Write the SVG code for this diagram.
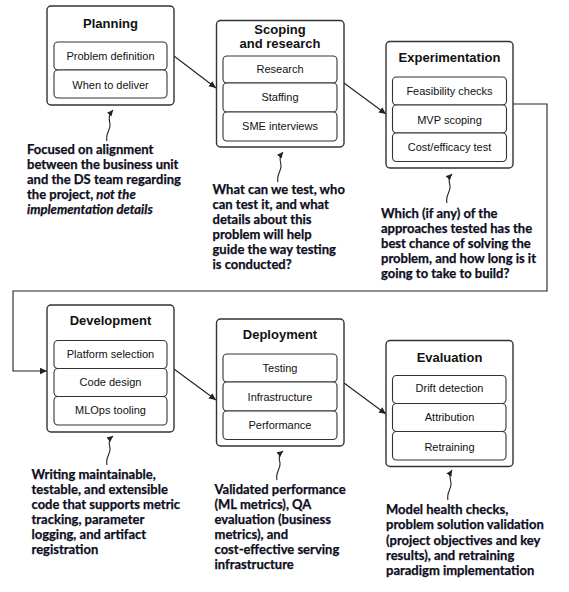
<svg xmlns="http://www.w3.org/2000/svg" width="569" height="592" viewBox="0 0 569 592">
<style>
.outer{fill:#fff;stroke:#333;stroke-width:1.4}
.inner{fill:#fff;stroke:#333;stroke-width:1.1}
.title{font-family:"Liberation Sans",Arial,sans-serif;font-weight:bold;font-size:13px;fill:#111;text-anchor:middle}
.item{font-family:"Liberation Sans",Arial,sans-serif;font-size:11px;fill:#111;text-anchor:middle}
.note{font-family:Lato,"Open Sans",sans-serif;font-weight:bold;font-size:13px;fill:#0e0e1e;stroke:#0e0e1e;stroke-width:0.25}
.conn{fill:none;stroke:#222;stroke-width:1.1}
.sq{fill:none;stroke:#222;stroke-width:1.1}
</style>
<defs>
<marker id="ah" markerWidth="8" markerHeight="8" refX="7" refY="4" orient="auto" markerUnits="userSpaceOnUse">
<path d="M0,0.8 L7,4 L0,7.2 Z" fill="#222"/>
</marker>
<marker id="ahs" markerWidth="7" markerHeight="7" refX="6" refY="3.5" orient="auto" markerUnits="userSpaceOnUse">
<path d="M0,0.5 L6,3.5 L0,6.5 Z" fill="#222"/>
</marker>
</defs>

<g id="connectors">
<path class="conn" d="M174,56 L216,88" marker-end="url(#ah)"/>
<path class="conn" d="M344,83 L386,114" marker-end="url(#ah)"/>
<path class="conn" d="M513,104 L547,104 L547,291 L13,291 L13,371 L47,371" marker-end="url(#ah)"/>
<path class="conn" d="M174,369 L216,400" marker-end="url(#ah)"/>
<path class="conn" d="M344,383 L386,414" marker-end="url(#ah)"/>
<path class="sq" d="M107,141 C105,133 111,130 110,124 C109,119 108,116 113,110" marker-end="url(#ahs)"/>
<path class="sq" d="M278,182 C276,174 282,171 281,165 C280,160 279,157 283,152" marker-end="url(#ahs)"/>
<path class="sq" d="M447,203 C445,195 451,192 450,186 C449,181 448,178 452,174" marker-end="url(#ahs)"/>
<path class="sq" d="M107,465 C105,457 111,454 110,448 C109,443 108,440 113,436" marker-end="url(#ahs)"/>
<path class="sq" d="M277,480 C275,472 281,469 280,463 C279,458 278,455 283,451" marker-end="url(#ahs)"/>
<path class="sq" d="M448,500 C446,492 452,489 451,483 C450,478 449,475 452,470" marker-end="url(#ahs)"/>
</g>

<g id="planning">
<rect class="outer" x="47" y="6" width="127" height="99" rx="4"/>
<text class="title" x="110.5" y="28">Planning</text>
<rect class="inner" x="54" y="42" width="113" height="28" rx="4"/>
<text class="item" x="110.5" y="60">Problem definition</text>
<rect class="inner" x="54" y="70" width="113" height="28" rx="4"/>
<text class="item" x="110.5" y="89">When to deliver</text>
</g>

<g id="scoping">
<rect class="outer" x="216.5" y="20.5" width="127.5" height="126.5" rx="4"/>
<text class="title" x="280" y="34">Scoping</text>
<text class="title" x="280" y="48">and research</text>
<rect class="inner" x="223" y="56" width="114" height="27" rx="4"/>
<text class="item" x="280" y="73">Research</text>
<rect class="inner" x="223" y="83" width="114" height="29" rx="4"/>
<text class="item" x="280" y="101">Staffing</text>
<rect class="inner" x="223" y="112" width="114" height="29" rx="4"/>
<text class="item" x="280" y="130">SME interviews</text>
</g>

<g id="experimentation">
<rect class="outer" x="386" y="41.5" width="127" height="126.5" rx="4"/>
<text class="title" x="449.5" y="62">Experimentation</text>
<rect class="inner" x="392.5" y="77" width="114" height="28" rx="4"/>
<text class="item" x="449.5" y="95">Feasibility checks</text>
<rect class="inner" x="392.5" y="105" width="114" height="28" rx="4"/>
<text class="item" x="449.5" y="124">MVP scoping</text>
<rect class="inner" x="392.5" y="133" width="114" height="28.5" rx="4"/>
<text class="item" x="449.5" y="151">Cost/efficacy test</text>
</g>

<g id="development">
<rect class="outer" x="47" y="305" width="127" height="127" rx="4"/>
<text class="title" x="110.5" y="325">Development</text>
<rect class="inner" x="54" y="340.5" width="113" height="28" rx="4"/>
<text class="item" x="110.5" y="358">Platform selection</text>
<rect class="inner" x="54" y="368.5" width="113" height="28" rx="4"/>
<text class="item" x="110.5" y="386">Code design</text>
<rect class="inner" x="54" y="396.5" width="113" height="28.5" rx="4"/>
<text class="item" x="110.5" y="414">MLOps tooling</text>
</g>

<g id="deployment">
<rect class="outer" x="216.5" y="319" width="127.5" height="127" rx="4"/>
<text class="title" x="280" y="339">Deployment</text>
<rect class="inner" x="223" y="354" width="114" height="28" rx="4"/>
<text class="item" x="280" y="372">Testing</text>
<rect class="inner" x="223" y="382" width="114" height="29" rx="4"/>
<text class="item" x="280" y="401">Infrastructure</text>
<rect class="inner" x="223" y="411" width="114" height="28.5" rx="4"/>
<text class="item" x="280" y="429">Performance</text>
</g>

<g id="evaluation">
<rect class="outer" x="386" y="340.5" width="127" height="126" rx="4"/>
<text class="title" x="449.5" y="362">Evaluation</text>
<rect class="inner" x="392.5" y="375.5" width="113.5" height="28" rx="4"/>
<text class="item" x="449.5" y="392">Drift detection</text>
<rect class="inner" x="392.5" y="403.5" width="113.5" height="28" rx="4"/>
<text class="item" x="449.5" y="421">Attribution</text>
<rect class="inner" x="392.5" y="431.5" width="113.5" height="28.5" rx="4"/>
<text class="item" x="449.5" y="451">Retraining</text>
</g>

<g id="note-planning">
<text class="note" x="27" y="154">Focused on alignment</text>
<text class="note" x="27" y="169">between the business unit</text>
<text class="note" x="27" y="184">and the DS team regarding</text>
<text class="note" x="27" y="199">the project, <tspan font-style="italic">not the</tspan></text>
<text class="note" x="27" y="214" font-style="italic">implementation details</text>
</g>

<g id="note-scoping">
<text class="note" x="212.5" y="194">What can we test, who</text>
<text class="note" x="212.5" y="209">can test it, and what</text>
<text class="note" x="212.5" y="224">details about this</text>
<text class="note" x="212.5" y="239">problem will help</text>
<text class="note" x="212.5" y="254">guide the way testing</text>
<text class="note" x="212.5" y="269">is conducted?</text>
</g>

<g id="note-experimentation">
<text class="note" x="381" y="218">Which (if any) of the</text>
<text class="note" x="381" y="233">approaches tested has the</text>
<text class="note" x="381" y="248">best chance of solving the</text>
<text class="note" x="381" y="263">problem, and how long is it</text>
<text class="note" x="381" y="278">going to take to build?</text>
</g>

<g id="note-development">
<text class="note" x="31.5" y="479">Writing maintainable,</text>
<text class="note" x="31.5" y="494">testable, and extensible</text>
<text class="note" x="31.5" y="509">code that supports metric</text>
<text class="note" x="31.5" y="524">tracking, parameter</text>
<text class="note" x="31.5" y="539">logging, and artifact</text>
<text class="note" x="31.5" y="554">registration</text>
</g>

<g id="note-deployment">
<text class="note" x="214.5" y="494">Validated performance</text>
<text class="note" x="214.5" y="509">(ML metrics), QA</text>
<text class="note" x="214.5" y="524">evaluation (business</text>
<text class="note" x="214.5" y="539">metrics), and</text>
<text class="note" x="214.5" y="554">cost-effective serving</text>
<text class="note" x="214.5" y="569">infrastructure</text>
</g>

<g id="note-evaluation">
<text class="note" x="386" y="514">Model health checks,</text>
<text class="note" x="386" y="529">problem solution validation</text>
<text class="note" x="386" y="544.5">(project objectives and key</text>
<text class="note" x="386" y="559.5">results), and retraining</text>
<text class="note" x="386" y="575">paradigm implementation</text>
</g>
</svg>
